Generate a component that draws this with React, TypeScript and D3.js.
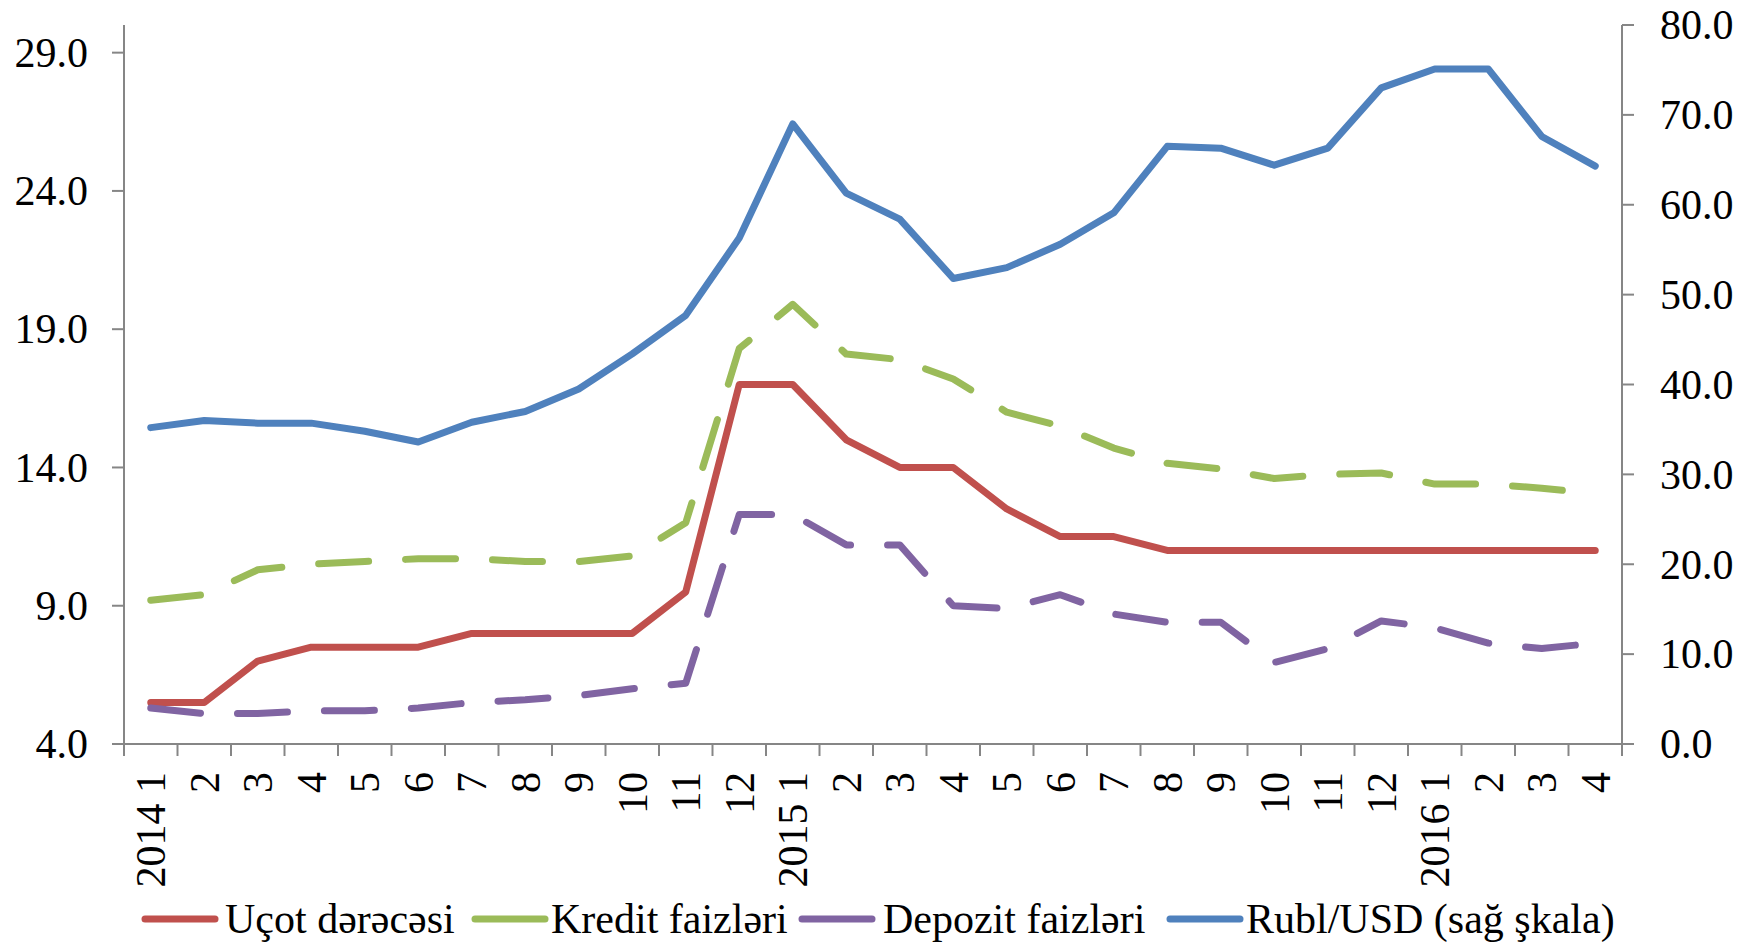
import * as d3 from "d3";

const CATEGORIES = [
  "2014-1", "2014-2", "2014-3", "2014-4", "2014-5", "2014-6", "2014-7",
  "2014-8", "2014-9", "2014-10", "2014-11", "2014-12",
  "2015-1", "2015-2", "2015-3", "2015-4", "2015-5", "2015-6", "2015-7",
  "2015-8", "2015-9", "2015-10", "2015-11", "2015-12",
  "2016-1", "2016-2", "2016-3", "2016-4",
];

const CATEGORY_LABELS = [
  "2014 1", "2", "3", "4", "5", "6", "7", "8", "9", "10", "11", "12",
  "2015 1", "2", "3", "4", "5", "6", "7", "8", "9", "10", "11", "12",
  "2016 1", "2", "3", "4",
];

// left scale, %
const UCOT = [
  5.5, 5.5, 7.0, 7.5, 7.5, 7.5, 8.0, 8.0, 8.0, 8.0, 9.5, 17.0,
  17.0, 15.0, 14.0, 14.0, 12.5, 11.5, 11.5, 11.0, 11.0, 11.0, 11.0, 11.0,
  11.0, 11.0, 11.0, 11.0,
];
const KREDIT = [
  9.2, 9.4, 10.3, 10.5, 10.6, 10.7, 10.7, 10.6, 10.6, 10.8, 12.0, 18.3,
  19.9, 18.1, 17.9, 17.2, 16.0, 15.5, 14.7, 14.15, 13.95, 13.6, 13.75, 13.8,
  13.4, 13.4, 13.25, 13.05,
];
const DEPOZIT = [
  5.3, 5.1, 5.1, 5.2, 5.2, 5.3, 5.5, 5.6, 5.75, 6.0, 6.2, 12.3,
  12.3, 11.2, 11.2, 9.0, 8.9, 9.4, 8.7, 8.4, 8.4, 6.95, 7.45, 8.45,
  8.2, 7.65, 7.45, 7.65,
];
// right scale
const RUBL_USD = [
  35.2, 36.0, 35.7, 35.7, 34.8, 33.6, 35.8, 37.0, 39.5, 43.4, 47.7, 56.3,
  69.0, 61.3, 58.4, 51.8, 53.0, 55.6, 59.1, 66.5, 66.3, 64.4, 66.3, 73.0,
  75.1, 75.1, 67.6, 64.3,
];

const LEFT_TICKS = [4, 9, 14, 19, 24, 29];
const RIGHT_TICKS = [0, 10, 20, 30, 40, 50, 60, 70, 80];

const SERIES = [
  { name: "Uçot dərəcəsi", values: UCOT, color: "#C0504D", dashed: false, right: false },
  { name: "Kredit faizləri", values: KREDIT, color: "#9BBB59", dashed: true, right: false },
  { name: "Depozit faizləri", values: DEPOZIT, color: "#8064A2", dashed: true, right: false },
  { name: "Rubl/USD (sağ şkala)", values: RUBL_USD, color: "#4F81BD", dashed: false, right: true },
];

const W = 1754;
const H = 943;
const FONT = "'Liberation Serif', 'Times New Roman', serif";
const AXIS = "#868686";

export default function App() {
  const plot = { left: 124, right: 1622, top: 25, bottom: 744 };

  const x = d3.scaleBand<string>().domain(CATEGORIES).range([plot.left, plot.right]).padding(0);
  const cx = (i: number) => (x(CATEGORIES[i]) ?? 0) + x.bandwidth() / 2;
  const yLeft = d3.scaleLinear().domain([4, 30]).range([plot.bottom, plot.top]);
  const yRight = d3.scaleLinear().domain([0, 80]).range([plot.bottom, plot.top]);
  const fmt = d3.format(".1f");

  const lineFor = (right: boolean) =>
    d3
      .line<number>()
      .x((_, i) => cx(i))
      .y((d) => (right ? yRight(d) : yLeft(d)));

  const boundaries = [...CATEGORIES.map((c) => x(c) ?? 0), plot.right];

  // legend layout: swatch start / text start
  const legendLineX = [145, 475, 802, 1170];
  const legendTextX = [225, 551, 883, 1246];
  const legendY = 919;

  return (
    <div style={{ position: "absolute", left: 0, top: 0 }}>
      <svg width={W} height={H} style={{ display: "block", background: "#fff" }} fontFamily={FONT}>
        {/* left axis */}
        <line x1={plot.left} x2={plot.left} y1={plot.top} y2={plot.bottom} stroke={AXIS} strokeWidth={2} />
        {LEFT_TICKS.map((t) => (
          <g key={`l${t}`} transform={`translate(0,${yLeft(t)})`}>
            <line x1={plot.left - 12} x2={plot.left} stroke={AXIS} strokeWidth={2} />
            <text x={88} dy="0.34em" textAnchor="end" fontSize={42} fill="#000">
              {fmt(t)}
            </text>
          </g>
        ))}

        {/* right axis */}
        <line x1={plot.right} x2={plot.right} y1={plot.top} y2={plot.bottom} stroke={AXIS} strokeWidth={2} />
        {RIGHT_TICKS.map((t) => (
          <g key={`r${t}`} transform={`translate(0,${yRight(t)})`}>
            <line x1={plot.right} x2={plot.right + 12} stroke={AXIS} strokeWidth={2} />
            <text x={1660} dy="0.34em" textAnchor="start" fontSize={42} fill="#000">
              {fmt(t)}
            </text>
          </g>
        ))}

        {/* category axis */}
        <line x1={plot.left} x2={plot.right} y1={plot.bottom} y2={plot.bottom} stroke={AXIS} strokeWidth={2} />
        {boundaries.map((bx, i) => (
          <line key={`t${i}`} x1={bx} x2={bx} y1={plot.bottom} y2={plot.bottom + 12} stroke={AXIS} strokeWidth={2} />
        ))}
        {CATEGORY_LABELS.map((lab, i) => (
          <text
            key={`c${i}`}
            transform={`translate(${cx(i)},${plot.bottom + 28}) rotate(-90)`}
            dy="0.34em"
            textAnchor="end"
            fontSize={42}
            fill="#000"
          >
            {lab}
          </text>
        ))}

        {/* series */}
        {SERIES.map((s) => (
          <path
            key={s.name}
            d={lineFor(s.right)(s.values) ?? ""}
            fill="none"
            stroke={s.color}
            strokeWidth={7}
            strokeLinejoin="round"
            strokeLinecap="round"
            strokeDasharray={s.dashed ? "50 37" : undefined}
          />
        ))}

        {/* legend */}
        {SERIES.map((s, i) => (
          <g key={`lg${i}`}>
            <line
              x1={legendLineX[i]}
              x2={legendLineX[i] + 70}
              y1={legendY}
              y2={legendY}
              stroke={s.color}
              strokeWidth={7}
              strokeLinecap="round"
            />
            <text x={legendTextX[i]} y={legendY + 14} fontSize={42} fill="#000">
              {s.name}
            </text>
          </g>
        ))}
      </svg>
    </div>
  );
}
